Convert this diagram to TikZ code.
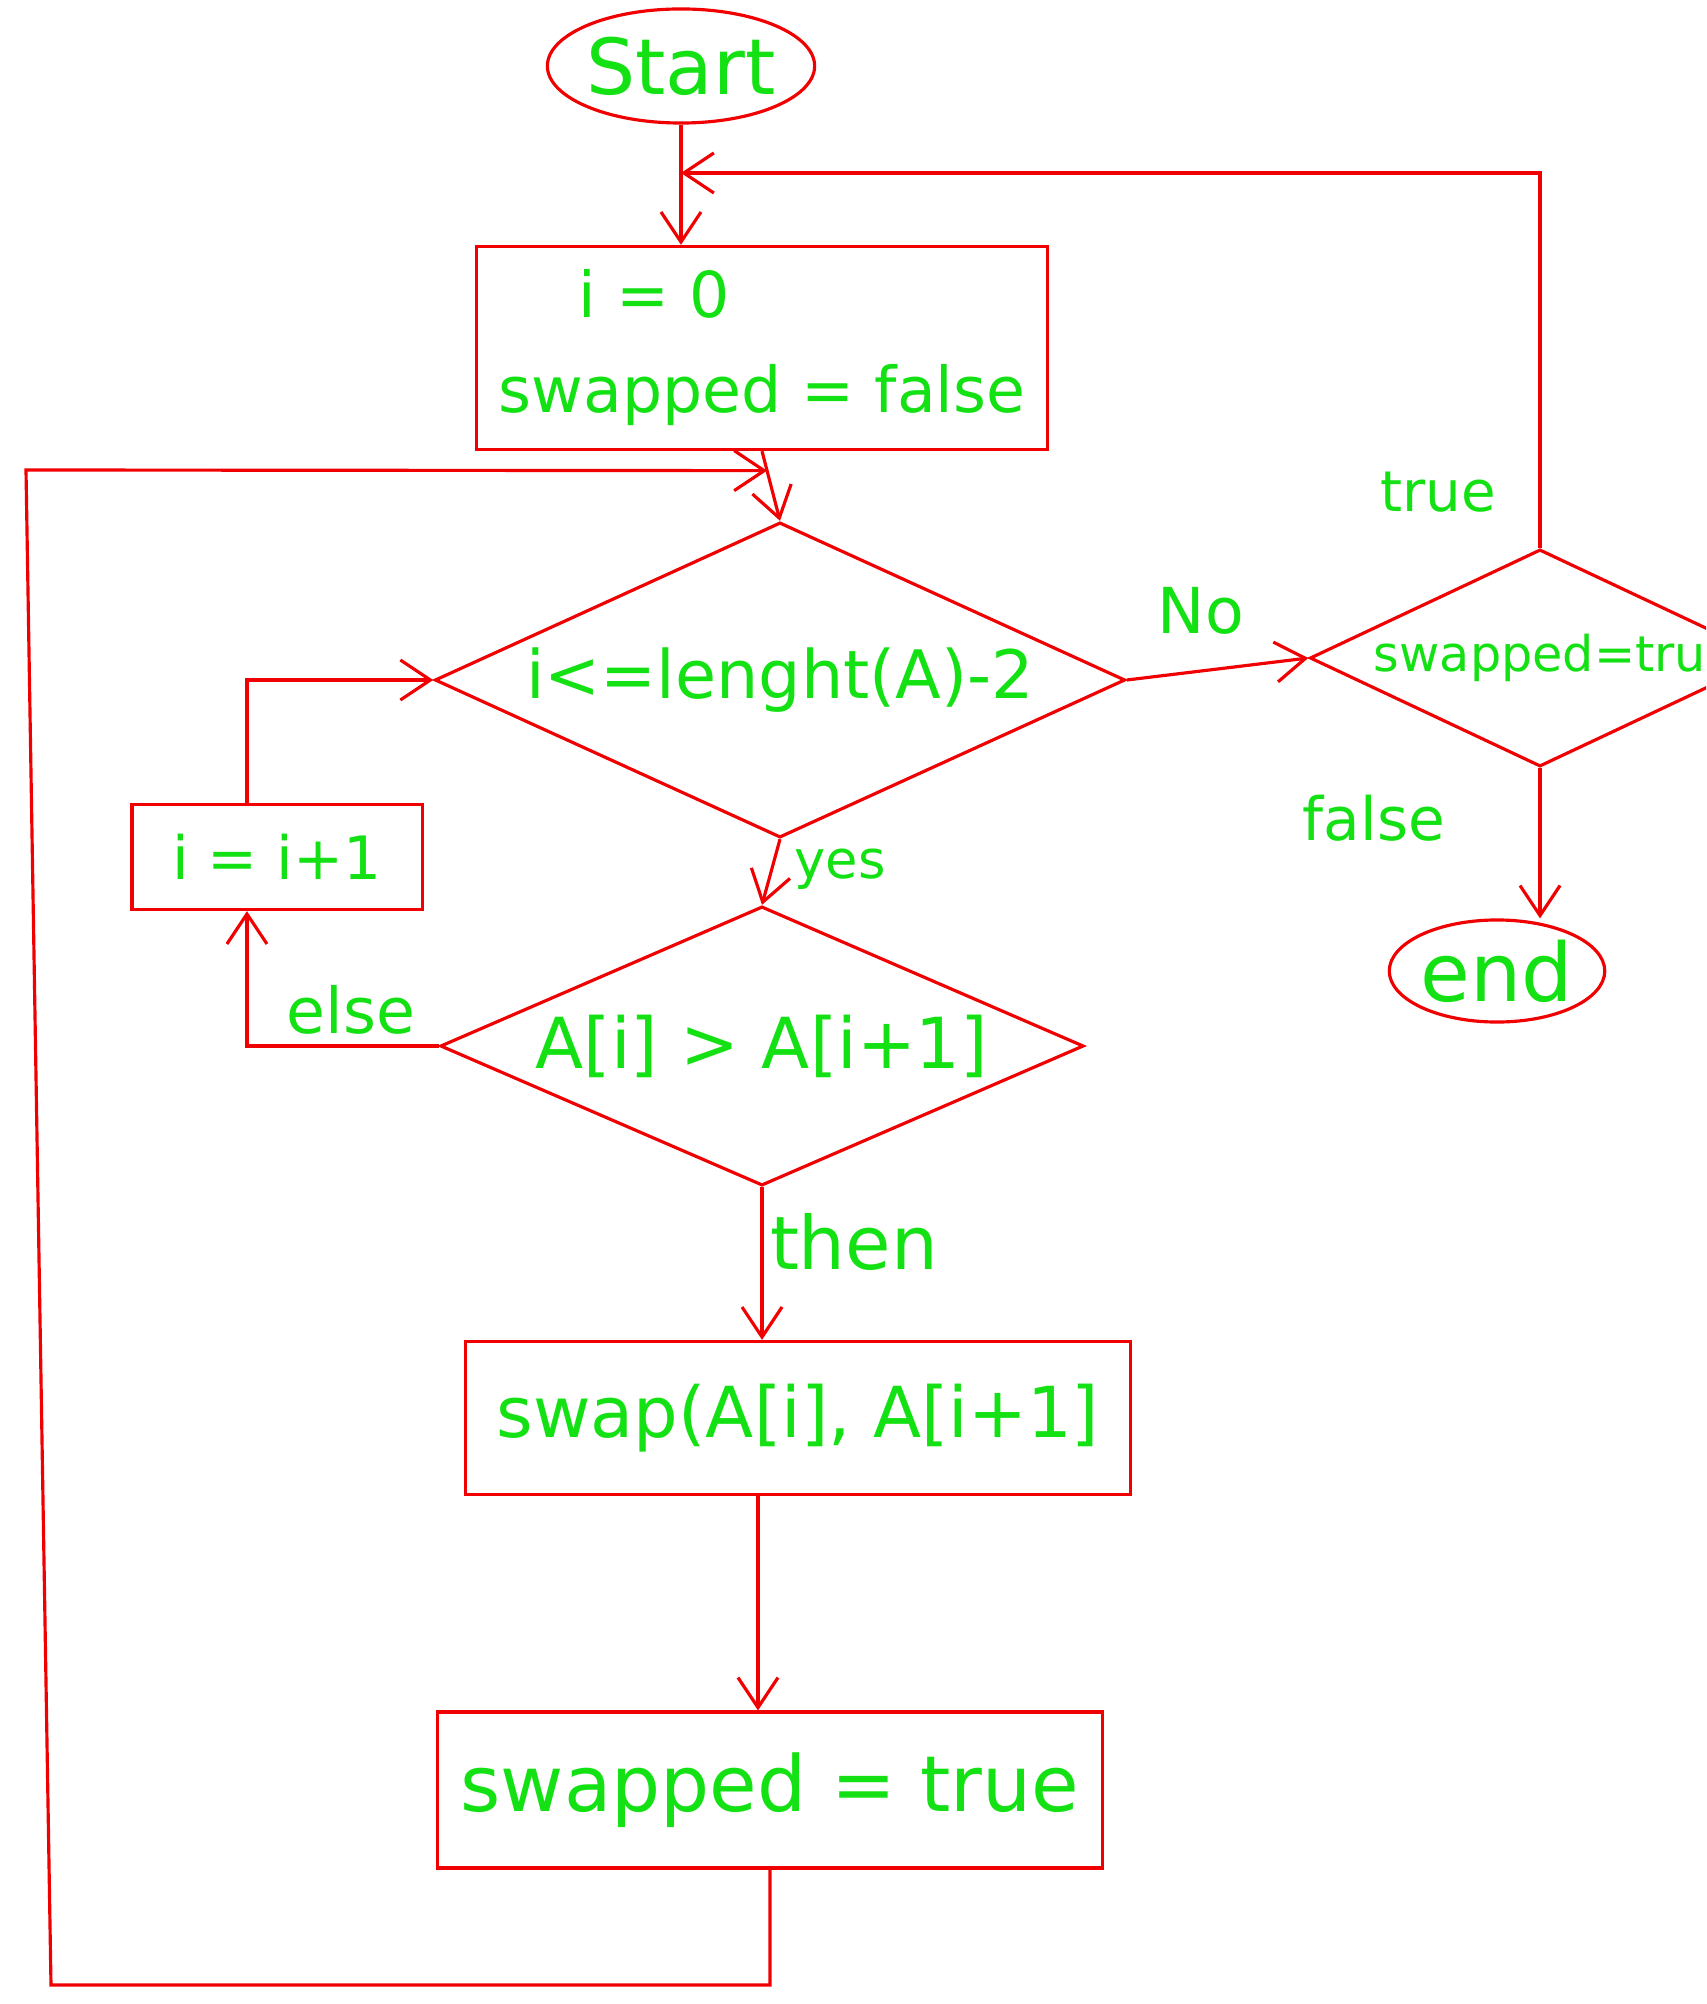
\documentclass[tikz,border=0pt]{standalone}
\usepackage{fontspec}
\setmainfont{DejaVu Sans}
\usetikzlibrary{shapes.geometric, arrows.meta, calc}

\definecolor{penred}{RGB}{240,0,0}
\definecolor{pengreen}{RGB}{20,225,20}
\newcommand{\fsz}[2]{\fontsize{#1}{#2}\selectfont}

\tikzset{
  box/.style={draw=penred, line width=0.9pt, rectangle, inner sep=0pt, text=pengreen},
  decision/.style={draw=penred, line width=0.9pt, diamond, inner sep=0pt, text=pengreen},
  terminal/.style={draw=penred, line width=0.9pt, ellipse, inner sep=0pt, text=pengreen},
  flow/.style={draw=penred, line width=0.9pt, -{Straight Barb[length=3mm,width=4mm]}},
  lbl/.style={text=pengreen, inner sep=0pt}
}

\begin{document}
\begin{tikzpicture}[x=0.01cm, y=-0.01cm]
  % area
  \useasboundingbox (0,0) rectangle (1706,2004);
  \clip (0,0) rectangle (1706,2004);

  % inicio e fim
  \node[terminal, minimum width=2.42cm, minimum height=1.14cm, font={\fsz{22}{22}}] (start) at (681,66) {Start};
  \node[terminal, minimum width=2.1cm, minimum height=1.02cm, font={\fsz{23}{23}}] (fin) at (1497,971) {end};

  % caixas
  \node[box, minimum width=5.71cm, minimum height=2.03cm, align=left, font={\fsz{18}{27}}] (init) at (762,348) {\hspace*{0.8cm}i = 0\\swapped = false};
  \node[box, minimum width=2.9cm, minimum height=1.05cm, font={\fsz{17}{17}}] (incr) at (277,857) {i = i+1};
  \node[box, minimum width=6.65cm, minimum height=1.53cm, font={\fsz{20}{20}}] (swap) at (798,1418) {swap(A[i], A[i+1]};
  \node[box, minimum width=6.65cm, minimum height=1.56cm, font={\fsz{22}{22}}] (set) at (770,1790) {swapped = true};

  % decisoes
  \node[decision, minimum width=6.9cm, minimum height=3.15cm, shape aspect=2.19, font={\fsz{19}{19}}] (cond) at (780,680) {i<=lenght(A)-2};
  \node[decision, minimum width=6.43cm, minimum height=2.79cm, shape aspect=2.3, font={\fsz{20}{20}}] (test) at (762,1046) {A[i] > A[i+1]};
  \node[decision, minimum width=4.6cm, minimum height=2.17cm, shape aspect=2.12, font={\fsz{14}{14}}] (swapchk) at (1540,658) {swapped=tru};

  % rotulos
  \node[lbl, font={\fsz{18}{18}}] (no) at (1201,611) {No};
  \node[lbl, font={\fsz{15}{15}}] (yes) at (840,869) {yes};
  \node[lbl, font={\fsz{16}{16}}] (tr) at (1438,492) {true};
  \node[lbl, font={\fsz{17}{17}}] (fa) at (1374,818) {false};
  \node[lbl, font={\fsz{18}{18}}] (el) at (351,1010) {else};
  \node[lbl, font={\fsz{21}{21}}] (th) at (854,1242) {then};

  % pontos auxiliares
  \coordinate (back) at (start.south |- 0,173);
  \coordinate (join) at ($(init.south)!0.28!(cond.north)$);
  \coordinate (lowl) at (51,1985);
  \coordinate (upl) at (26,470);

  % conexoes
  \draw[flow] (start.south) -- (start.south |- init.north);
  \draw[flow] (swapchk.north) |- (back);
  \draw[flow] (init.south) -- (cond.north);
  \draw[flow] (cond.east) -- (swapchk.west);
  \draw[flow] (cond.south) -- (test.north);
  \draw[flow] (test.west) -| ([xshift=-0.3cm]incr.south);
  \draw[flow] ([xshift=-0.3cm]incr.north) |- (cond.west);
  \draw[flow] (test.south) -- (test.south |- swap.north);
  \draw[flow] ([xshift=-0.4cm]swap.south) -- ([xshift=-0.4cm]swap.south |- set.north);
  \draw[flow] (set.south) |- (lowl) -- (upl) -- (join);
  \draw[flow] (swapchk.south) -- (swapchk.south |- fin.north);
\end{tikzpicture}
\end{document}
